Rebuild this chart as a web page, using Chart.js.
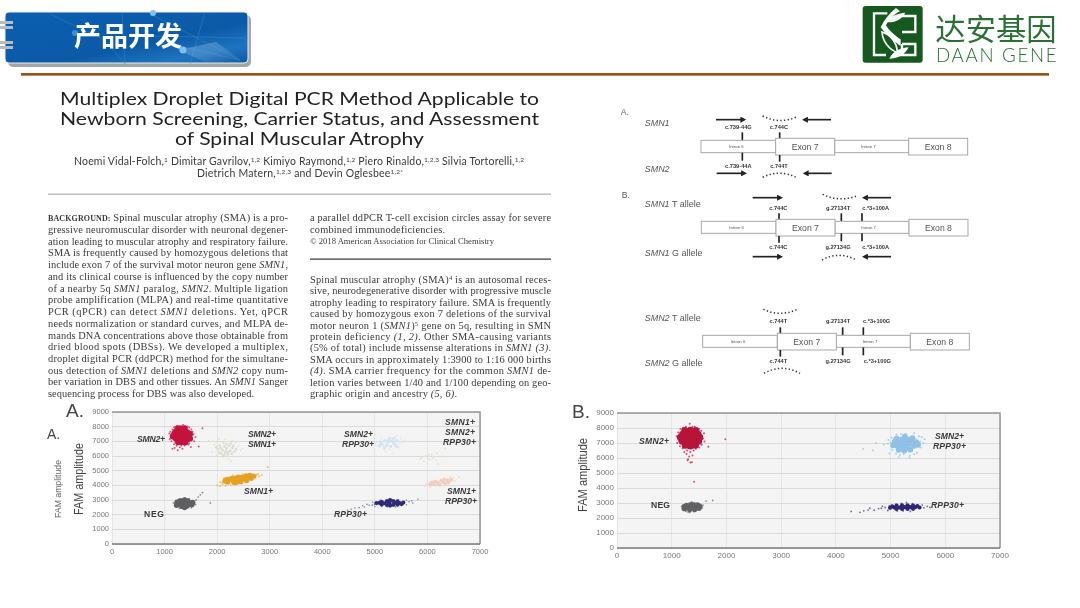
<!DOCTYPE html>
<html lang="zh"><head><meta charset="utf-8">
<script src="https://cdn.jsdelivr.net/npm/chart.js@4"></script>
<style>
html,body{margin:0;padding:0;background:#fff;width:1080px;height:608px;overflow:hidden}
#slide{position:absolute;left:0;top:0;width:1080px;height:608px;filter:blur(.45px)}
canvas{position:absolute}
svg{position:absolute;left:0;top:0}
</style></head><body>
<div id="slide">
<canvas id="chartA" width="424" height="160" style="left:72px;top:402px;width:424px;height:160px"></canvas>
<canvas id="chartB" width="440" height="165" style="left:577px;top:403px;width:440px;height:165px"></canvas>
<svg id="art" width="1080" height="608" viewBox="0 0 1080 608" xmlns="http://www.w3.org/2000/svg"></svg>
</div>
<script>
const xTicks = [0,1000,2000,3000,4000,5000,6000,7000];
const yTicks = [0,1000,2000,3000,4000,5000,6000,7000,8000,9000];

// Chart A droplet clusters: [FAM-free channel, FAM amplitude]
const aRedCore = [[1320,7400],[1230,7420],[1410,7380],[1270,7700],[1370,7720],[1270,7100],[1370,7080],[1190,7540],[1450,7330],[1320,7850],[1320,6950],[1210,7220],[1430,7600],[1430,7130],[1220,7680],[1160,7350],[1480,7500],[1480,7200],[1260,6950],[1390,6930],[1260,7880],[1380,7880]];
const aRedEdge = [[1120,7300],[1150,7800],[1130,7000],[1180,6800],[1230,6700],[1290,6600],[1380,6720],[1470,6850],[1520,7150],[1550,7480],[1510,7800],[1440,8010],[1350,8120],[1240,8050],[1180,7950],[1090,7540],[1590,7300],[1250,6400],[1340,6500],[1500,6620],[1650,6650],[1720,7900],[1150,6500],[1190,6550],[1470,7950],[1110,7650],[1530,7650],[1560,7000],[1100,7150],[1200,6950],[1450,6780],[1310,8050],[1400,8000],[1200,8000],[1320,6720]];
const aPaleCore = [[2100,6400],[2180,6550],[2250,6350],[2150,6200],[2230,6700],[2050,6700],[2290,6550],[2120,6900],[2200,6100],[2010,6450],[2330,6300],[2080,6150],[2260,6850],[2170,6380],[2040,6230],[2140,6650],[2210,6250],[2310,6700],[2070,6550],[2180,6800],[2280,6150],[1980,6600],[2360,6480],[2120,6050]];
const aPaleEdge = [[1950,6800],[1920,7000],[2150,7150],[2280,7050],[2400,6650],[2450,6400],[2330,5950],[2220,5800],[2260,5650],[2110,5900],[1990,6050],[1900,6250],[2480,6520],[2360,6950],[2040,7150],[1840,7050]];
const aOrangeCore = [[2400,4400],[2300,4300],[2500,4450],[2600,4550],[2200,4230],[2350,4500],[2450,4250],[2550,4650],[2650,4480],[2250,4420],[2150,4300],[2700,4620],[2470,4550],[2330,4180],[2400,4560],[2560,4330],[2280,4480],[2620,4680],[2190,4400],[2380,4240]];
const aOrangeEdge = [[2050,3950],[2100,4050],[2000,4000],[2160,3960],[2260,4020],[2380,4070],[2530,4230],[2750,4740],[2800,4620],[2680,4780],[2490,4780],[2300,4680],[2130,4500],[2060,4210],[2850,4700],[2960,5250],[2600,4300],[2220,4120],[2100,4180],[2170,4120],[2780,4750]];
const aNegCore = [[1380,2750],[1280,2720],[1470,2760],[1340,2920],[1440,2920],[1330,2580],[1430,2600],[1240,2850],[1520,2700],[1380,3000],[1380,2500],[1230,2650],[1530,2830],[1290,2930]];
const aNegEdge = [[1200,2650],[1170,2800],[1570,2830],[1590,2700],[1510,2480],[1280,2430],[1290,3050],[1470,3080],[1600,3000],[1640,3200],[1680,3350],[1720,3500],[1870,2800],[1550,2920],[1390,3130],[1210,2950]];
const aBlueCore = [[5250,6900],[5330,7050],[5380,6800],[5190,7050],[5300,6650],[5420,7050],[5140,6800],[5280,7220],[5220,6700],[5350,6900],[5110,6950],[5180,6550],[5360,7200],[5260,7050],[5410,6650],[5090,6720]];
const aBlueEdge = [[5100,6600],[5050,6700],[5030,6950],[5450,6600],[5520,6950],[5560,7060],[5640,6990],[5200,6300],[5350,6200],[5120,7200],[5400,7350],[5700,7020],[5280,6450],[5490,7200],[5000,6820],[5470,6850]];
const aBeige = [[5900,5900],[5970,6000],[6050,5750],[6120,5950],[6180,6200],[6000,5850],[5930,5650],[6080,6100],[6170,5700],[6240,5950],[6320,5950],[6330,6520],[6200,5450],[5860,5820],[6110,5850],[6020,6060]];
const aSalmonCore = [[6300,4230],[6200,4150],[6380,4330],[6120,4100],[6260,4320],[6400,4200],[6050,4080],[6450,4380],[6340,4120],[6160,4250],[6230,4050],[6320,4400],[6080,4180]];
const aSalmonEdge = [[5970,4080],[5950,3950],[6000,4250],[6150,3950],[6250,4000],[6120,4320],[6490,4480],[6520,4300],[6430,4550],[6600,4580],[5800,4000],[6050,3880]];
const aNavyCore = [[5280,2800],[5180,2780],[5380,2800],[5090,2800],[5470,2790],[5230,2930],[5350,2930],[5230,2660],[5350,2670],[5540,2830],[5030,2790],[5130,2700],[5130,2880],[5430,2900],[5430,2680],[5290,2620],[5290,2990],[5510,2720]];
const aNavyEdge = [[4990,2700],[4950,2650],[4890,2640],[4800,2520],[4700,2480],[4620,2450],[4550,2370],[4480,2300],[4420,2180],[4850,2700],[5650,2880],[5700,2950],[5600,2680],[5100,3000],[5290,3100],[5450,3020],[5130,2560],[5390,2530],[5720,2800],[4770,2610],[5820,3050],[4960,2850],[5600,2980],[5000,2560],[5240,2520]];

// Chart B droplet clusters
const bRedCore = [[1340,7300],[1240,7350],[1440,7320],[1290,7680],[1400,7680],[1290,6980],[1390,6980],[1200,7580],[1480,7580],[1340,7850],[1340,6800],[1190,7120],[1490,7120],[1340,7550],[1160,7380],[1510,7380],[1240,7820],[1440,7830],[1250,6850],[1430,6850],[1340,7050]];
const bRedEdge = [[1130,7200],[1120,7700],[1160,7950],[1550,7500],[1590,7650],[1600,7100],[1260,8080],[1330,8280],[1420,8080],[1500,7950],[1200,6650],[1280,6500],[1400,6500],[1500,6700],[1550,6880],[1270,6260],[1320,6100],[1380,6170],[1290,5850],[1340,5700],[1300,5920],[1370,5720],[1980,7250],[1410,4420],[1670,6750],[1090,7450],[1100,7000],[1570,7280],[1150,6780],[1340,6400],[1230,6400],[1440,6620],[1210,8010],[1380,8090],[1540,7820]];
const bGreyCore = [[1370,2700],[1280,2680],[1460,2700],[1330,2830],[1420,2830],[1330,2560],[1420,2560],[1230,2760],[1510,2790],[1370,2910],[1230,2620],[1500,2650],[1270,2850],[1470,2880]];
const bGreyEdge = [[1190,2640],[1180,2780],[1300,2400],[1260,2450],[1400,2430],[1560,2680],[1570,2850],[1320,3000],[1420,3030],[1210,2880],[1630,3130],[1750,3170],[1500,2530],[1330,2370],[1550,2750],[1360,3050]];
const bBlueCore = [[5250,6950],[5160,7000],[5340,6950],[5210,7230],[5310,7230],[5200,6700],[5300,6680],[5110,6830],[5390,7100],[5430,6820],[5080,7100],[5250,6500],[5110,7280],[5400,7320],[5050,6850],[5470,7050],[5150,6550],[5360,6560],[5260,7420],[5500,6880]];
const bBlueEdge = [[5000,7050],[4950,6950],[4880,6900],[4730,7000],[4500,6600],[5030,6550],[5100,6300],[5170,6200],[5350,6150],[5480,6350],[5550,6700],[5540,7100],[5520,7450],[5430,7650],[5280,7620],[5110,7560],[5020,7350],[5340,6000],[4980,6300],[5600,7000],[5150,6050],[4680,6500],[5620,7250],[5570,7400],[5430,6250],[5240,6250],[4960,7200],[5190,7600]];
const bNavyCore = [[5260,2720],[5160,2700],[5360,2720],[5070,2700],[5450,2720],[5210,2840],[5310,2850],[5210,2600],[5310,2600],[5530,2700],[4990,2680],[5110,2820],[5110,2600],[5410,2830],[5410,2610],[5490,2790],[5030,2770],[5210,2720],[5310,2720]];
const bNavyEdge = [[4900,2700],[4830,2650],[4780,2620],[4700,2520],[4620,2650],[4590,2530],[4510,2480],[4440,2380],[4280,2440],[5610,2680],[5670,2780],[5720,2700],[5100,2920],[5290,3040],[5400,2950],[5120,2460],[5360,2440],[4950,2500],[5580,2860],[4850,2780],[5230,2470],[5200,2980],[4980,2830]];

// Annotations that sit on the plots
const ringLabels = ["SMN2+","SMN1+","RPP30+","NEG"];

function cloud(core, coreR, coreCol, edge, edgeR, edgeCol){
  return [
    {data:core.map(p=>({x:p[0],y:p[1]})),pointRadius:coreR,backgroundColor:coreCol,borderWidth:0,order:1},
    {data:edge.map(p=>({x:p[0],y:p[1]})),pointRadius:edgeR,backgroundColor:edgeCol,borderWidth:0,order:2}
  ];
}
const plotFrame = {
  id:'plotFrame',
  beforeDraw(c){
    const a=c.chartArea,g=c.ctx;
    g.save();g.fillStyle='#f4f4f5';g.fillRect(a.left,a.top,a.width,a.height);g.restore();
  },
  afterDatasetsDraw(c){
    const a=c.chartArea,g=c.ctx;
    g.save();g.strokeStyle='#94989b';g.lineWidth=1.5;
    g.beginPath();g.moveTo(a.left,a.top);g.lineTo(a.right,a.top);g.lineTo(a.right,a.bottom);g.stroke();
    g.strokeStyle='#777c80';g.beginPath();g.moveTo(a.left,a.bottom);g.lineTo(a.right,a.bottom);g.stroke();
    g.restore();
  }
};
function makeChart(id, datasets, yWidth, xHeight, pad, size){
  return new Chart(document.getElementById(id),{
    type:'scatter',
    data:{datasets},
    plugins:[plotFrame],
    options:{
      responsive:false,animation:false,events:[],
      layout:{padding:pad},
      plugins:{legend:{display:false},tooltip:{enabled:false},title:{display:false}},
      scales:{
        x:{type:'linear',min:xTicks[0],max:xTicks[xTicks.length-1],
           afterBuildTicks(s){s.ticks=xTicks.map(v=>({value:v}));},
           afterFit(s){s.height=xHeight;},
           grid:{color:'#e4e5e7',drawTicks:false,lineWidth:1},border:{display:false},
           ticks:{color:'#777',font:{family:'Liberation Sans',size},padding:3,maxRotation:0,autoSkip:false,callback:v=>String(v)}},
        y:{type:'linear',min:yTicks[0],max:yTicks[yTicks.length-1],
           afterBuildTicks(s){s.ticks=yTicks.map(v=>({value:v}));},
           afterFit(s){s.width=yWidth;},
           grid:{color:'#dadbdd',drawTicks:false,lineWidth:1},border:{display:false},
           ticks:{color:'#777',font:{family:'Liberation Sans',size},padding:3,autoSkip:false,callback:v=>String(v)}}
      }
    }
  });
}
makeChart('chartA',[
  ...cloud(aRedCore,3.2,'#c2143f',aRedEdge,1,'#d4587a'),
  ...cloud(aPaleCore,1.3,'#d8dccb',aPaleEdge,.8,'#dcdfd1'),
  ...cloud(aOrangeCore,2.6,'#e5a11f',aOrangeEdge,1,'#eec26a'),
  ...cloud(aNegCore,2.8,'#5f5f61',aNegEdge,.9,'#8a8a8c'),
  ...cloud(aBlueCore,1.7,'#d5e4f0',aBlueEdge,.9,'#dbe7f1'),
  ...cloud(aBeige,.9,'#e2dfcc',[],0,'#e2dfcc'),
  ...cloud(aSalmonCore,1.9,'#f3cdbf',aSalmonEdge,.9,'#f3d6cb'),
  ...cloud(aNavyCore,2.1,'#2e2a78',aNavyEdge,.8,'#7f7da2')
],40,18,{left:0,right:16,top:10,bottom:0},7.5);
makeChart('chartB',[
  ...cloud(bRedCore,3.6,'#b8143a',bRedEdge,1,'#cf4f70'),
  ...cloud(bGreyCore,2.6,'#616163',bGreyEdge,.9,'#8d8d8f'),
  ...cloud(bBlueCore,3,'#8fc1e4',bBlueEdge,1,'#a9cfea'),
  ...cloud(bNavyCore,2.1,'#2f2478',bNavyEdge,.9,'#6f6d99')
],40,20,{left:0,right:17,top:10,bottom:0},8);

/* ---------- slide furniture: real text and shapes ---------- */
const sans="'Liberation Sans',Arial,sans-serif", serif="'Liberation Serif',serif", ui="Lato,'Open Sans',sans-serif", cjk="'Noto Sans CJK SC',sans-serif";
let s='';
s+=`<defs>
<linearGradient id="ban" x1="0" y1="0" x2="1" y2="1"><stop offset="0" stop-color="#0a5fb0"/><stop offset=".6" stop-color="#0b5aa8"/><stop offset=".82" stop-color="#1f74bf"/><stop offset="1" stop-color="#0d58a3"/></linearGradient>
<linearGradient id="rule" x1="0" y1="0" x2="0" y2="1"><stop offset="0" stop-color="#9c5a20"/><stop offset=".6" stop-color="#8e5220"/><stop offset="1" stop-color="#d9b48c"/></linearGradient>
<linearGradient id="sheen" x1="0" y1="0" x2="1" y2="1"><stop offset="0" stop-color="#fff" stop-opacity=".55"/><stop offset="1" stop-color="#fff" stop-opacity="0"/></linearGradient>
<marker id="ah" viewBox="0 0 10 10" refX="6" refY="5" markerWidth="3.6" markerHeight="3.6" orient="auto-start-reverse"><path d="M0 0L10 5L0 10z" fill="#222"/></marker>
</defs>`;
// banner
s+=`<rect x="8" y="15" width="243" height="52" rx="5" fill="#a3a6a8"/>`;
s+=`<rect x="5" y="12" width="243" height="51" rx="4" fill="url(#ban)" stroke="#e8eef4" stroke-width="1"/>`;
s+=`<g stroke="#3f8dd2" stroke-width=".7" opacity=".6" fill="none"><path d="M50 14L105 40L125 64M122 14L125 64M190 64L205 12M150 36L248 38M180 46L240 60M150 14L240 60"/></g>`;
s+=`<path d="M178 50L216 42L244 62L205 62z" fill="url(#sheen)" opacity=".5"/><circle cx="153" cy="13" r="3" fill="#7fc0ee"/><circle cx="183" cy="50" r="3.5" fill="#7fc0ee"/><circle cx="75" cy="33" r="3" fill="#3e8fd6"/>`;
s+=`<g fill="#b8bcc0"><rect x="0" y="21" width="13" height="3"/><rect x="0" y="26" width="13" height="3"/><rect x="0" y="41" width="13" height="3"/><rect x="0" y="46" width="13" height="3"/></g>`;
s+=`<text x="74" y="46" font-family="${cjk}" font-weight="700" font-size="27" fill="#fff" textLength="108">产品开发</text>`;
// logo
s+=`<g transform="translate(600,0) scale(.33333)"><rect x="788" y="18" width="180" height="170" rx="9" fill="#15591f"/>
<g fill="none" stroke="#fff" stroke-width="7"><path d="M862 40H822V165H858M892 48H946V96H906M906 132H946V165H900M906 132V165"/></g>
<path d="M888 24C868 40 852 60 842 82C858 104 885 128 902 138V118C885 108 866 90 858 76C866 60 880 44 900 34z" fill="#fff"/>
<path d="M846 96C872 104 892 130 892 158C866 148 848 124 846 96z" fill="#15591f" stroke="#fff" stroke-width="5"/>
<path d="M868 176C880 152 902 144 926 142C916 164 894 176 868 176z" fill="#fff"/>
<path d="M856 66C870 48 892 40 916 38C906 58 884 70 856 66z" fill="#fff" opacity=".95"/>
<text x="1006" y="120" font-family="${cjk}" font-size="90" fill="#2a7034" textLength="364" lengthAdjust="spacingAndGlyphs">达安基因</text>
<text x="1008" y="187" font-family="Lato,${sans}" font-weight="300" font-size="56" fill="#2a7034" textLength="362" lengthAdjust="spacing">DAAN GENE</text></g>`;
s+=`<rect x="21" y="73" width="1028" height="3" fill="url(#rule)"/>`;
// paper title
const title=[["Multiplex Droplet Digital PCR Method Applicable to",60,539,105],["Newborn Screening, Carrier Status, and Assessment",60,539,125],["of Spinal Muscular Atrophy",175,424,145]];
title.forEach(t=>{s+=`<text x="${t[1]}" y="${t[3]}" font-family="${ui}" font-size="18" fill="#222" style="font-variant-ligatures:none" textLength="${t[2]-t[1]}" lengthAdjust="spacingAndGlyphs">${t[0]}</text>`;});
const sup=t=>`<tspan dy="-3" font-size="6.5">${t}</tspan><tspan dy="3" font-size="10.5"> </tspan>`;
s+=`<text x="74" y="165" font-family="${ui}" font-size="10.5" fill="#3a3a3a" textLength="450">Noemi Vidal-Folch,${sup('1')}Dimitar Gavrilov,${sup('1,2')}Kimiyo Raymond,${sup('1,2')}Piero Rinaldo,${sup('1,2,3')}Silvia Tortorelli,${sup('1,2')}</text>`;
s+=`<text x="197" y="177" font-family="${ui}" font-size="10.5" fill="#3a3a3a" textLength="206">Dietrich Matern,${sup('1,2,3')}and Devin Oglesbee${sup('1,2*')}</text>`;
s+=`<rect x="48" y="193.5" width="503" height="1.4" fill="#b9b9b9"/><rect x="310" y="258.5" width="241" height="1.2" fill="#333"/>`;
const it=t=>`<tspan font-style="italic">${t}</tspan>`;
const leftCol=[
 `<tspan font-size="8" font-weight="bold">BACKGROUND:</tspan> Spinal muscular atrophy (SMA) is a pro-`,
 `gressive neuromuscular disorder with neuronal degener-`,
 `ation leading to muscular atrophy and respiratory failure.`,
 `SMA is frequently caused by homozygous deletions that`,
 `include exon 7 of the survival motor neuron gene ${it('SMN1')},`,
 `and its clinical course is influenced by the copy number`,
 `of a nearby 5q ${it('SMN1')} paralog, ${it('SMN2')}. Multiple ligation`,
 `probe amplification (MLPA) and real-time quantitative`,
 `PCR (qPCR) can detect ${it('SMN1')} deletions. Yet, qPCR`,
 `needs normalization or standard curves, and MLPA de-`,
 `mands DNA concentrations above those obtainable from`,
 `dried blood spots (DBSs). We developed a multiplex,`,
 `droplet digital PCR (ddPCR) method for the simultane-`,
 `ous detection of ${it('SMN1')} deletions and ${it('SMN2')} copy num-`,
 `ber variation in DBS and other tissues. An ${it('SMN1')} Sanger`,
 `sequencing process for DBS was also developed.`];
const leftEnd=[288,288,288,288,288,288,288,288,288,288,288,288,288,288,288,254];
const leftY=[652,688,723,758,793,829,864,899,934,970,1005,1040,1075,1110,1145,1180];
leftCol.forEach((t,i)=>{s+=`<text x="48" y="${leftY[i]/3+3.5}" font-family="${serif}" font-size="10.4" fill="#3a3a3a" textLength="${leftEnd[i]-48}" lengthAdjust="spacing">${t}</text>`;});
const rightTop=[["a parallel ddPCR T-cell excision circles assay for severe",551,220.5,10.4],["combined immunodeficiencies.",445,232.5,10.4],["© 2018 American Association for Clinical Chemistry",494,244,8.6]];
rightTop.forEach(t=>{s+=`<text x="310" y="${t[2]}" font-family="${serif}" font-size="${t[3]}" fill="#3a3a3a" textLength="${t[1]-310}" lengthAdjust="spacing">${t[0]}</text>`;});
const sup2=t=>`<tspan dy="-3" font-size="6.5">${t}</tspan><tspan dy="3"> </tspan>`;
const rightCol=[
 `Spinal muscular atrophy (SMA)${sup2('4')}is an autosomal reces-`,
 `sive, neurodegenerative disorder with progressive muscle`,
 `atrophy leading to respiratory failure. SMA is frequently`,
 `caused by homozygous exon 7 deletions of the survival`,
 `motor neuron 1 (${it('SMN1')})${sup2('5')}gene on 5q, resulting in SMN`,
 `protein deficiency ${it('(1, 2)')}. Other SMA-causing variants`,
 `(5% of total) include missense alterations in ${it('SMN1 (3)')}.`,
 `SMA occurs in approximately 1:3900 to 1:16 000 births`,
 `${it('(4)')}. SMA carrier frequency for the common ${it('SMN1')} de-`,
 `letion varies between 1/40 and 1/100 depending on geo-`,
 `graphic origin and ancestry ${it('(5, 6)')}.`];
const rightY=[837,871,906,941,975,1009,1043,1078,1111,1146,1180];
rightCol.forEach((t,i)=>{s+=`<text x="310" y="${rightY[i]/3+3.5}" font-family="${serif}" font-size="10.4" fill="#3a3a3a" textLength="${(i==10?457:551)-310}" lengthAdjust="spacing">${t}</text>`;});
// gene diagram, drawn in the crop's 3x units
let d='';
const tx=(x,y,t,size,o='')=>`<text x="${x}" y="${y}" font-family="${sans}" font-size="${size}" fill="#555" ${o}>${t}</text>`;
const lab=(cx,y,t)=>`<text x="${cx}" y="${y}" text-anchor="middle" font-family="${sans}" font-weight="bold" font-size="17" fill="#333">${t}</text>`;
const tick=(x,y1,y2)=>`<path d="M${x} ${y1}V${y2}" stroke="#222" stroke-width="5"/>`;
const arrow=(x1,x2,y)=>`<path d="M${x1} ${y}H${x2}" stroke="#222" stroke-width="5" marker-end="url(#ah)"/>`;
const dots=(a,b,c,e,f)=>`<path d="M${a} ${b}Q${c} ${e} ${f}" fill="none" stroke="#333" stroke-width="4.5" stroke-dasharray="4 7"/>`;
function gene(x0,yTop,yBot,iT,iB){
  const b=(x,w,y,h)=>`<rect x="${x}" y="${y}" width="${w}" height="${h}" fill="#fff" stroke="#a8a8a8" stroke-width="3"/>`;
  let r=b(x0,224,iT,iB-iT)+b(x0+401,222,iT,iB-iT)+b(x0+224,177,yTop,yBot-yTop)+b(x0+623,177,yTop,yBot-yTop);
  r+=tx(x0+84,iT+24,'Intron 6',13)+tx(x0+480,iT+24,'Intron 7',13);
  r+=tx(x0+272,yTop+36,'Exon 7',26)+tx(x0+671,yTop+36,'Exon 8',26);
  return r;
}
d+=tx(62,345,'A.',26,'fill-opacity=".9"');
d+=tx(134,378,'SMN1',27,'font-style="italic"')+tx(134,515,'SMN2',27,'font-style="italic"');
d+=arrow(348,432,359)+dots(488,348,'540 374',592,350)+arrow(693,613,359)+lab(415,387,'c.739-44G')+lab(537,387,'c.744C')+tick(427,397,421)+tick(539,397,415);
d+=gene(303,415,465,421,458)+tick(427,458,482)+tick(539,465,485)+lab(415,504,'c.739-44A')+lab(537,504,'c.744T');
d+=arrow(350,434,520)+dots(488,532,'540 506',592,534)+arrow(695,615,520);
d+=tx(65,595,'B.',26);
d+=`<text x="134" y="621" font-family="${sans}" font-size="27" fill="#555"><tspan font-style="italic">SMN1</tspan> T allele</text>`;
d+=arrow(458,542,593)+dots(668,583,'720 608',772,587)+arrow(873,793,593)+lab(535,629,'c.744C')+lab(714,629,'g.27134T')+lab(827,629,'c.*3+100A');
d+=tick(537,640,658)+tick(724,640,664)+tick(786,640,664)+gene(304,658,708,664,700);
d+=tick(537,708,728)+tick(724,700,724)+tick(786,700,724)+lab(535,748,'c.744C')+lab(714,748,'g.27134G')+lab(827,748,'c.*3+100A');
d+=`<text x="134" y="768" font-family="${sans}" font-size="27" fill="#555"><tspan font-style="italic">SMN1</tspan> G allele</text>`;
d+=arrow(458,542,770)+dots(666,780,'716 752',770,780)+arrow(873,793,770);
d+=`<text x="134" y="963" font-family="${sans}" font-size="27" fill="#555"><tspan font-style="italic">SMN2</tspan> T allele</text>`;
d+=dots(490,928,'540 952',592,928)+lab(535,970,'c.744T')+lab(714,970,'g.27134T')+lab(830,970,'c.*3+100G');
d+=tick(541,982,1000)+tick(728,982,1006)+tick(790,982,1006)+gene(308,1000,1050,1006,1042);
d+=tick(541,1050,1070)+tick(728,1042,1066)+tick(790,1042,1066)+lab(535,1089,'c.744T')+lab(714,1089,'g.27134G')+lab(832,1089,'c.*3+100G');
d+=`<text x="134" y="1098" font-family="${sans}" font-size="27" fill="#555"><tspan font-style="italic">SMN2</tspan> G allele</text>`;
d+=dots(492,1120,'545 1090',600,1120);
s+=`<g transform="translate(600,0) scale(.33333)">${d}</g>`;
// chart annotations
const anno=(x,cy,x2,t,italic=true)=>`<text x="${x}" y="${cy+3}" font-family="${sans}" font-weight="bold" ${italic?'font-style="italic"':''} font-size="8.6" fill="#3a3a3a" textLength="${x2-x}" lengthAdjust="spacing">${t}</text>`;
const [SMN2,SMN1,RPP,NEG]=ringLabels;
s+=anno(137,439,165,SMN2)+anno(248,434,276,SMN2)+anno(248,444,276,SMN1)+anno(244,491,273,SMN1)+anno(144,514,164,NEG,false);
s+=anno(344,434,373,SMN2)+anno(342,444,374,RPP)+anno(334,514,367,RPP);
s+=anno(445,422,475,SMN1)+anno(445,432,475,SMN2)+anno(443,442,476,RPP);
s+=anno(447,491,476,SMN1)+anno(445,501,477,RPP);
s+=anno(639,441,669,SMN2)+anno(651,505,670,NEG,false)+anno(935,436,964,SMN2)+anno(933,446,966,RPP)+anno(931,505,964,RPP);
s+=`<text x="66" y="417" font-family="${sans}" font-size="19" fill="#444">A.</text><text x="47" y="439" font-family="${sans}" font-size="14" fill="#444">A.</text>`;
s+=`<text x="572" y="418" font-family="${sans}" font-size="19" fill="#444">B.</text>`;
const yLab=(x,y,size,len,col)=>`<text transform="translate(${x},${y}) rotate(-90)" text-anchor="middle" font-family="${sans}" font-size="${size}" fill="${col}" textLength="${len}" lengthAdjust="spacingAndGlyphs">FAM amplitude</text>`;
s+=yLab(61,489,9,58,'#666')+yLab(83,479,12.5,72,'#444')+yLab(587,475,12.5,74,'#444');
document.getElementById('art').innerHTML=s;
</script>
</body></html>
